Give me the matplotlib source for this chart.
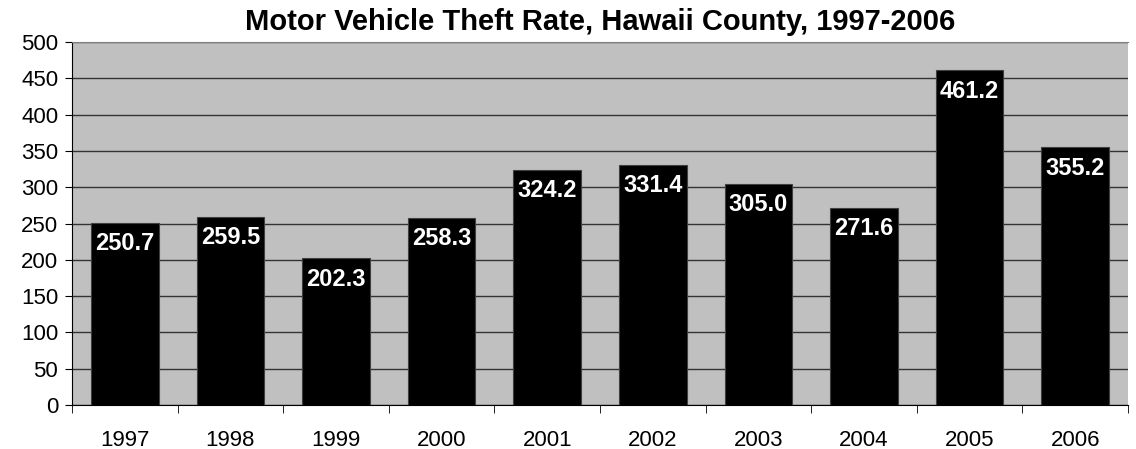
import matplotlib
matplotlib.use("Agg")
import matplotlib.pyplot as plt

plt.rcParams['font.family'] = ['Liberation Sans', 'DejaVu Sans']

years = ['1997', '1998', '1999', '2000', '2001', '2002', '2003', '2004', '2005', '2006']
rates = [250.7, 259.5, 202.3, 258.3, 324.2, 331.4, 305.0, 271.6, 461.2, 355.2]

fig = plt.figure(figsize=(11.36, 4.49), dpi=100)
ax = fig.add_axes([0.0634, 0.098, 0.9296, 0.808])
ax.set_facecolor('#C0C0C0')

x = range(len(years))
bars = ax.bar(x, rates, width=0.64, color='black', edgecolor='#404040', linewidth=0.8, zorder=3)

for i, v in enumerate(rates):
    ax.annotate('%.1f' % v, (i, v), xytext=(0, -15), textcoords='offset points',
                ha='center', va='center', color='white', fontsize=17, fontweight='bold', zorder=4)

ax.set_xlim(-0.5, len(years) - 0.5)
ax.set_ylim(0, 500)
ax.set_yticks(range(0, 501, 50))
ax.yaxis.grid(True, color='#333333', linewidth=1, zorder=1)
ax.set_axisbelow(True)

ax.set_xticks(x)
ax.set_xticklabels(years, fontsize=16)
ax.set_xticks([i - 0.5 for i in range(len(years) + 1)], minor=True)
ax.tick_params(axis='x', which='major', length=0, pad=18)
ax.tick_params(axis='x', which='minor', length=6, direction='out', color='black')
ax.tick_params(axis='y', length=5, direction='out', labelsize=16, pad=5)

ax.spines['right'].set_visible(False)
ax.spines['top'].set_color('#808080')
ax.spines['left'].set_color('black')
ax.spines['bottom'].set_color('black')

ax.set_title('Motor Vehicle Theft Rate, Hawaii County, 1997-2006', fontsize=21, fontweight='bold', pad=9)

fig.savefig('out.png', dpi=100, facecolor='white')
